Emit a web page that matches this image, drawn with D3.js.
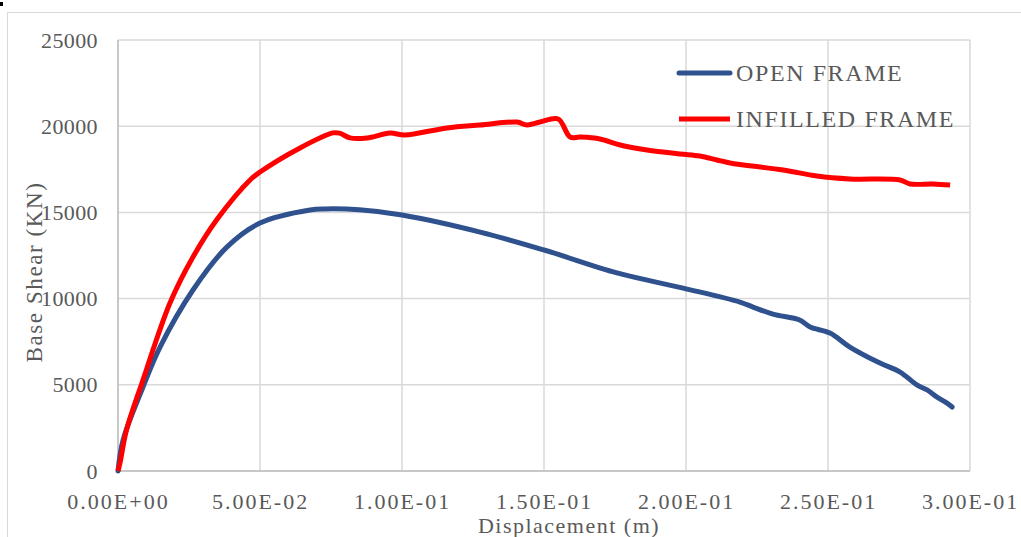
<!DOCTYPE html>
<html>
<head>
<meta charset="utf-8">
<script src="https://cdn.jsdelivr.net/npm/d3@7"></script>
<style>
  body { margin: 0; background: #fff; }
  text { font-family: "Liberation Serif", "DejaVu Serif", serif; fill: #595959; }
</style>
</head>
<body>
<script>
// pushover curves: base shear vs displacement
var openDisp = [0, 0.0018, 0.0088, 0.0148, 0.0264, 0.0384, 0.05, 0.0676, 0.073, 0.085, 0.1, 0.1275, 0.15, 0.1757, 0.199, 0.219, 0.2236, 0.2306, 0.24, 0.2437, 0.2507, 0.2577, 0.2683, 0.2754, 0.2813, 0.2849, 0.2884, 0.2919, 0.2937];
var openShear = [0, 1800, 4870, 7190, 10500, 13000, 14380, 15140, 15200, 15150, 14850, 13860, 12820, 11490, 10610, 9800, 9510, 9100, 8760, 8350, 8000, 7190, 6260, 5740, 4990, 4700, 4290, 3940, 3710];

var infDisp = [0, 0.0007, 0.003, 0.0088, 0.0183, 0.0264, 0.0349, 0.0465, 0.05, 0.0641, 0.0757, 0.078, 0.0817, 0.0877, 0.0958, 0.101, 0.1158, 0.1275, 0.1405, 0.144, 0.1486, 0.155, 0.1592, 0.1627, 0.1697, 0.1768, 0.1863, 0.1979, 0.2049, 0.2109, 0.2155, 0.2342, 0.2461, 0.2577, 0.2754, 0.2789, 0.287, 0.293];
var infShear = [0, 460, 2380, 5280, 9740, 12410, 14600, 16880, 17340, 18740, 19610, 19600, 19320, 19320, 19600, 19490, 19900, 20070, 20240, 20070, 20240, 20420, 19370, 19370, 19260, 18910, 18620, 18390, 18270, 18040, 17870, 17460, 17110, 16940, 16880, 16650, 16650, 16590];

var xTicks = [0, 0.05, 0.10, 0.15, 0.20, 0.25, 0.30];
var yTicks = [0, 5000, 10000, 15000, 20000, 25000];
var seriesNames = ["OPEN FRAME", "INFILLED FRAME"];
var seriesColors = ["#2f528f", "#ff0000"];

var margin = {top: 40, left: 118, right: 51, bottom: 66},
    width = 1021 - margin.left - margin.right,
    height = 537 - margin.top - margin.bottom;

var root = d3.select("body").append("svg")
    .attr("width", 1021)
    .attr("height", 537);

// outer chart border
root.append("rect")
    .attr("x", 7.5).attr("y", 12.5)
    .attr("width", 1030).attr("height", 540)
    .attr("fill", "none")
    .attr("stroke", "#d9d9d9")
    .attr("stroke-width", 1);

// little mark in the corner
root.append("rect")
    .attr("x", 0).attr("y", 2)
    .attr("width", 3).attr("height", 4)
    .attr("fill", "#000");

var svg = root.append("g")
    .attr("transform", "translate(" + margin.left + "," + margin.top + ")");

var x = d3.scaleLinear().domain([0, 0.30]).range([0, width]);
var y = d3.scaleLinear().domain([0, 25000]).range([height, 0]);

// gridlines
svg.selectAll(".vgrid")
    .data(xTicks)
    .enter().append("line")
    .attr("x1", function(d){ return x(d); })
    .attr("x2", function(d){ return x(d); })
    .attr("y1", 0).attr("y2", height)
    .attr("stroke", "#d9d9d9").attr("stroke-width", 1.5);

svg.selectAll(".hgrid")
    .data(yTicks)
    .enter().append("line")
    .attr("y1", function(d){ return y(d); })
    .attr("y2", function(d){ return y(d); })
    .attr("x1", 0).attr("x2", width)
    .attr("stroke", "#d9d9d9").attr("stroke-width", 1.5);

// axis lines
svg.append("line").attr("x1", 0).attr("x2", 0).attr("y1", 0).attr("y2", height)
    .attr("stroke", "#bfbfbf").attr("stroke-width", 1.5);
svg.append("line").attr("x1", 0).attr("x2", width).attr("y1", height).attr("y2", height)
    .attr("stroke", "#bfbfbf").attr("stroke-width", 1.5);

// axes (labels only)
var xAxis = svg.append("g")
    .attr("transform", "translate(0," + height + ")")
    .call(d3.axisBottom(x).tickValues(xTicks).tickSize(0).tickPadding(22)
        .tickFormat(function(d){ return d3.format(".2e")(d).replace("e", "E").replace(/E([+-])(\d)$/, "E$10$2").toUpperCase(); }));
xAxis.select(".domain").remove();
xAxis.selectAll("text")
    .style("font-size", "22px")
    .style("letter-spacing", "2px")
    .attr("fill", "#595959");

var yAxis = svg.append("g")
    .call(d3.axisLeft(y).tickValues(yTicks).tickSize(0).tickPadding(20).tickFormat(d3.format("d")));
yAxis.select(".domain").remove();
yAxis.selectAll("text")
    .style("font-size", "22px")
    .style("letter-spacing", "0.4px")
    .attr("fill", "#595959");

// lines
var line = d3.line()
    .x(function(d){ return x(d[0]); })
    .y(function(d){ return y(d[1]); })
    .curve(d3.curveCatmullRom);

var openData = d3.zip(openDisp, openShear);
var infData = d3.zip(infDisp, infShear);

svg.append("path")
    .datum(openData)
    .attr("fill", "none")
    .attr("stroke", seriesColors[0])
    .attr("stroke-width", 5)
    .attr("stroke-linecap", "round")
    .attr("stroke-linejoin", "round")
    .attr("d", line);

svg.append("path")
    .datum(infData)
    .attr("fill", "none")
    .attr("stroke", seriesColors[1])
    .attr("stroke-width", 5)
    .attr("stroke-linejoin", "round")
    .attr("d", line);

// axis titles
root.append("text")
    .attr("text-anchor", "middle")
    .attr("transform", "translate(42,272) rotate(-90)")
    .style("font-size", "23px")
    .style("letter-spacing", "1.6px")
    .text("Base Shear (KN)");

root.append("text")
    .attr("text-anchor", "middle")
    .attr("x", 569).attr("y", 533)
    .style("font-size", "22px")
    .style("letter-spacing", "1.5px")
    .text("Displacement (m)");

// legend
var legend = root.append("g");
seriesNames.forEach(function(name, i){
    var ly = 73 + i * 46;
    legend.append("line")
        .attr("x1", 679).attr("x2", 730)
        .attr("y1", ly).attr("y2", ly)
        .attr("stroke", seriesColors[i])
        .attr("stroke-width", 5)
        .attr("stroke-linecap", i === 0 ? "round" : "butt");
    legend.append("text")
        .attr("x", 736).attr("y", ly + 8)
        .style("font-size", "24px")
        .style("letter-spacing", "1.6px")
        .text(name);
});
</script>
</body>
</html>
